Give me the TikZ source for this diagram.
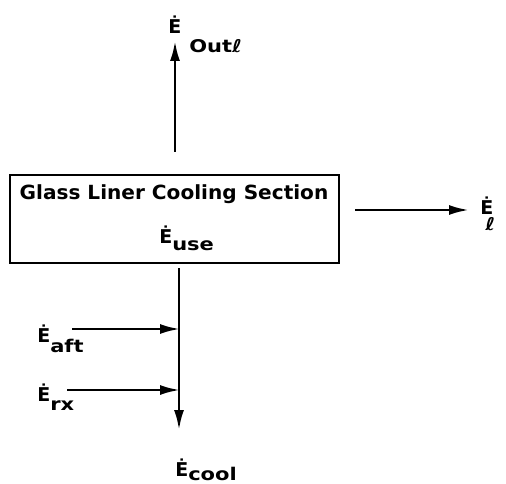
\documentclass[tikz,border=0pt]{standalone}
\usepackage{fontspec}
\setmainfont{DejaVu Sans}
\newfontfamily\titlefont[FakeStretch=1.03]{DejaVu Sans}
\newfontfamily\subfont[FakeStretch=1.2]{DejaVu Sans}
\usetikzlibrary{arrows.meta}
\newcommand\lbl[2]{Ė\raisebox{-#1}{\subfont\bfseries\fontsize{17.5}{17.5}\selectfont #2}}
\begin{document}
\begin{tikzpicture}[x=1pt,y=-1pt, line width=2.6pt,
  flow/.style={-{Latex[length=20pt,width=10pt]}},
  lab/.style={anchor=base west, inner sep=0pt, font=\bfseries\fontsize{19}{19}\selectfont}]
\useasboundingbox (0,0) rectangle (506,484);
% main box
\node[draw, line width=2.4pt, minimum width=329pt, minimum height=88pt, anchor=north west, inner sep=0pt] (box) at (9,174) {};
\node[anchor=base, inner sep=0pt, font=\titlefont\bfseries\fontsize{19.5}{19.5}\selectfont] (title) at (174,199) {Glass Liner Cooling Section};
\node[lab] (use) at (158,243) {\lbl{7pt}{use}};
% outflow upward
\coordinate (outs) at (175,152);
\coordinate (outt) at (175,41);
\draw[flow] (outs) -- (outt);
\node[lab] (eout) at (167,34) {\lbl{19pt}{\hspace{8pt}Outℓ}};
% loss to the right
\coordinate (ls) at (355,210);
\coordinate (lt) at (469,210);
\draw[flow] (ls) -- (lt);
\node[lab] (el) at (479,214) {\lbl{17pt}{\hspace{-8pt}ℓ}};
% cooling line downward
\coordinate (cs) at (179,268);
\coordinate (ct) at (179,430);
\draw[flow] (cs) -- (ct);
\node[lab] (ecool) at (174,476) {\lbl{4pt}{cool}};
% inputs
\coordinate (as) at (72,329);
\coordinate (aj) at (180,329);
\draw[flow] (as) -- (aj);
\node[lab] (eaft) at (36,342) {\lbl{10pt}{aft}};
\coordinate (rs) at (67,390);
\coordinate (rj) at (180,390);
\draw[flow] (rs) -- (rj);
\node[lab] (erx) at (36,401) {\lbl{9pt}{rx}};
\end{tikzpicture}
\end{document}
